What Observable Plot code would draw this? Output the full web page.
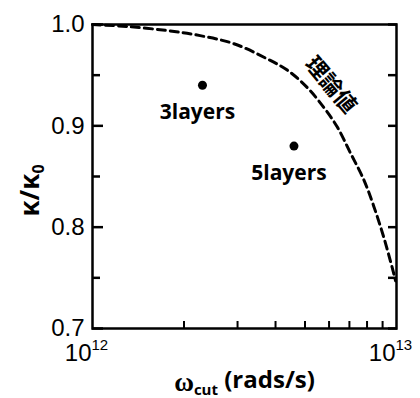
<!DOCTYPE html>
<html>
<head>
<meta charset="utf-8">
<script src="https://cdn.jsdelivr.net/npm/d3@7"></script>
<script src="https://cdn.jsdelivr.net/npm/@observablehq/plot@0.6"></script>
<style>
  html, body { margin: 0; padding: 0; background: #fff; }
  #chart svg { display: block; }
</style>
</head>
<body>
<div id="chart"></div>
<script>
// Theoretical curve
const omegaCurve = [1.0e12, 1.3e12, 1.76e12, 2.26e12, 2.92e12, 3.76e12, 4.37e12, 5.08e12, 5.77e12, 6.38e12, 7.06e12, 7.80e12, 8.41e12, 9.08e12, 9.68e12, 9.93e12];
const kappaCurve = [1.0, 0.998, 0.994, 0.989, 0.981, 0.966, 0.955, 0.938, 0.918, 0.899, 0.873, 0.847, 0.821, 0.790, 0.760, 0.747];

// Measured points
const layerLabels = ["3layers", "5layers"];
const omegaPts = [2.3e12, 4.6e12];
const kappaPts = [0.94, 0.88];

// Ticks
const yMajor = [0.7, 0.8, 0.9, 1.0];
const yMinor = [0.75, 0.85, 0.95];
const xMajor = [1e12, 1e13];
const xMajorBase = ["10", "10"];
const xMajorExp = ["12", "13"];
const xMinor = [2e12, 3e12, 4e12, 5e12, 6e12, 7e12, 8e12, 9e12];

const curveLabel = "理論値";
const yLabel = "κ/κ0";
const xLabel = "ωcut (rads/s)";

const curve = omegaCurve.map((w, i) => ({w, k: kappaCurve[i]}));
const pts = layerLabels.map((name, i) => ({name, w: omegaPts[i], k: kappaPts[i]}));
const xTicks = xMajor.map((v, i) => ({v, base: xMajorBase[i], exp: xMajorExp[i]}));

const blank = () => "";

const chart = Plot.plot({
  width: 420,
  height: 398,
  marginLeft: 92,
  marginRight: 24,
  marginTop: 24,
  marginBottom: 70,
  style: {fontFamily: "'Liberation Sans', Arial, sans-serif", color: "#000", background: "#fff"},
  x: {type: "log", domain: [1e12, 1e13]},
  y: {domain: [0.7, 1.0]},
  marks: [
    // inward ticks
    Plot.axisY({anchor: "left", ticks: yMajor, tickSize: -11, tickFormat: blank, label: null, strokeWidth: 2.5}),
    Plot.axisY({anchor: "left", ticks: yMinor, tickSize: -8, tickFormat: blank, label: null, strokeWidth: 2.5}),
    Plot.axisY({anchor: "right", ticks: yMajor.concat(yMinor), tickSize: -9, tickFormat: blank, label: null, strokeWidth: 2.5}),
    Plot.axisX({anchor: "bottom", ticks: xMinor, tickSize: -7, tickFormat: blank, label: null, strokeWidth: 2}),
    Plot.frame({stroke: "#000", strokeWidth: 2.5}),
    // y tick labels
    Plot.text(yMajor, {x: () => 1e12, y: d => d, text: d => d.toFixed(1), textAnchor: "end", lineAnchor: "middle", dx: -8, fontSize: 24, fill: "#000"}),
    // x tick labels with superscript
    Plot.text(xTicks, {x: "v", y: () => 0.7, text: "base", textAnchor: "end", lineAnchor: "bottom", dx: -1, dy: 32, fontSize: 24, fill: "#000"}),
    Plot.text(xTicks, {x: "v", y: () => 0.7, text: "exp", textAnchor: "start", lineAnchor: "bottom", dx: -1, dy: 21, fontSize: 15, fill: "#000"}),
    // theory curve
    Plot.line(curve, {x: "w", y: "k", curve: "catmull-rom", stroke: "#000", strokeWidth: 3, strokeDasharray: "8,5"}),
    // points
    Plot.dot(pts, {x: "w", y: "k", r: 4.5, fill: "#000", stroke: null}),
    Plot.text(pts, {x: "w", y: "k", text: "name", dx: -5, dy: 34, lineAnchor: "bottom", fontSize: 21, fontWeight: "bold", fontFamily: "'Open Sans', sans-serif", fill: "#000"}),
    // curve label
    Plot.text([curveLabel], {x: () => 6.07e12, y: () => 0.94, text: d => d, rotate: 50, fontSize: 22, fontWeight: "bold", fontFamily: "'Noto Sans CJK JP', sans-serif", fill: "#000"}),
    // axis labels
    Plot.text([yLabel], {frameAnchor: "left", text: d => d, rotate: -90, textAnchor: "start", dx: -62, dy: 40, fontSize: 26, fontWeight: "bold", fontFamily: "'Open Sans', sans-serif", fill: "#000"}),
    Plot.text([xLabel], {frameAnchor: "bottom", text: d => d, dy: 62, lineAnchor: "bottom", fontSize: 24, fontWeight: "bold", fontFamily: "'Open Sans', sans-serif", fill: "#000"})
  ]
});

document.getElementById("chart").appendChild(chart);

// rich text: subscripts
const texts = d3.select(chart).selectAll("text");
texts.filter(function() { return this.textContent === yLabel; }).each(function() {
  const t = d3.select(this);
  t.text(null);
  t.append("tspan").text("κ/κ");
  t.append("tspan").attr("font-size", "16").attr("dy", "0.3em").text("0");
});
texts.filter(function() { return this.textContent === xLabel; }).each(function() {
  const t = d3.select(this);
  t.text(null);
  t.append("tspan").attr("font-family", "'Liberation Serif', serif").attr("font-size", "27").text("ω");
  t.append("tspan").attr("font-size", "15").attr("dy", "0.3em").text("cut");
  t.append("tspan").attr("dy", "-0.3em").attr("font-size", "24").text(" (rads/s)");
});
</script>
</body>
</html>
